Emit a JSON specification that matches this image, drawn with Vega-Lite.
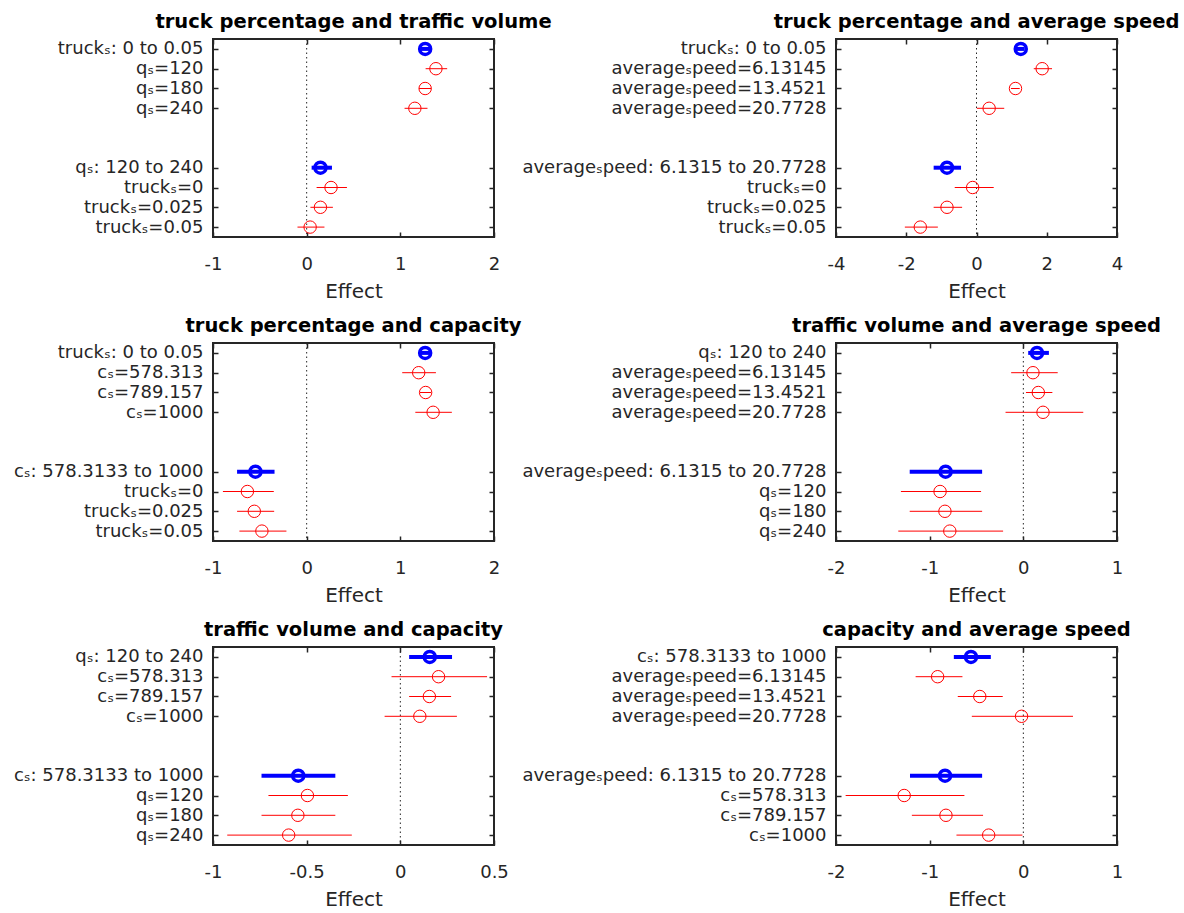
{
  "$schema": "https://vega.github.io/schema/vega-lite/v6.json",
  "padding": {"left": 12, "top": 10, "right": 5, "bottom": 5},
  "datasets": {
    "effects": [
      {"panel": 1, "term": "truckₛ: 0 to 0.05", "kind": "main", "est": 1.265, "lo": 1.21, "hi": 1.32},
      {"panel": 1, "term": "qₛ=120", "kind": "cond", "est": 1.38, "lo": 1.27, "hi": 1.5},
      {"panel": 1, "term": "qₛ=180", "kind": "cond", "est": 1.265, "lo": 1.2, "hi": 1.33},
      {"panel": 1, "term": "qₛ=240", "kind": "cond", "est": 1.155, "lo": 1.045, "hi": 1.29},
      {"panel": 1, "term": "qₛ: 120 to 240", "kind": "main", "est": 0.147, "lo": 0.053, "hi": 0.27},
      {"panel": 1, "term": "truckₛ=0", "kind": "cond", "est": 0.26, "lo": 0.106, "hi": 0.43},
      {"panel": 1, "term": "truckₛ=0.025", "kind": "cond", "est": 0.147, "lo": 0.04, "hi": 0.28},
      {"panel": 1, "term": "truckₛ=0.05", "kind": "cond", "est": 0.037, "lo": -0.098, "hi": 0.19},

      {"panel": 2, "term": "truckₛ: 0 to 0.05", "kind": "main", "est": 1.26, "lo": 1.15, "hi": 1.37},
      {"panel": 2, "term": "averageₛpeed=6.13145", "kind": "cond", "est": 1.87, "lo": 1.63, "hi": 2.15},
      {"panel": 2, "term": "averageₛpeed=13.4521", "kind": "cond", "est": 1.11, "lo": 0.98, "hi": 1.23},
      {"panel": 2, "term": "averageₛpeed=20.7728", "kind": "cond", "est": 0.36, "lo": 0.01, "hi": 0.79},
      {"panel": 2, "term": "averageₛpeed: 6.1315 to 20.7728", "kind": "main", "est": -0.84, "lo": -1.22, "hi": -0.44},
      {"panel": 2, "term": "truckₛ=0", "kind": "cond", "est": -0.11, "lo": -0.62, "hi": 0.49},
      {"panel": 2, "term": "truckₛ=0.025", "kind": "cond", "est": -0.84, "lo": -1.22, "hi": -0.41},
      {"panel": 2, "term": "truckₛ=0.05", "kind": "cond", "est": -1.6, "lo": -2.04, "hi": -1.1},

      {"panel": 3, "term": "truckₛ: 0 to 0.05", "kind": "main", "est": 1.265, "lo": 1.22, "hi": 1.31},
      {"panel": 3, "term": "cₛ=578.313", "kind": "cond", "est": 1.196, "lo": 1.02, "hi": 1.38},
      {"panel": 3, "term": "cₛ=789.157", "kind": "cond", "est": 1.27, "lo": 1.21, "hi": 1.33},
      {"panel": 3, "term": "cₛ=1000", "kind": "cond", "est": 1.35, "lo": 1.16, "hi": 1.55},
      {"panel": 3, "term": "cₛ: 578.3133 to 1000", "kind": "main", "est": -0.547, "lo": -0.743, "hi": -0.343},
      {"panel": 3, "term": "truckₛ=0", "kind": "cond", "est": -0.633, "lo": -0.894, "hi": -0.351},
      {"panel": 3, "term": "truckₛ=0.025", "kind": "cond", "est": -0.559, "lo": -0.743, "hi": -0.347},
      {"panel": 3, "term": "truckₛ=0.05", "kind": "cond", "est": -0.478, "lo": -0.718, "hi": -0.216},

      {"panel": 4, "term": "qₛ: 120 to 240", "kind": "main", "est": 0.146, "lo": 0.052, "hi": 0.273},
      {"panel": 4, "term": "averageₛpeed=6.13145", "kind": "cond", "est": 0.103, "lo": -0.13, "hi": 0.367},
      {"panel": 4, "term": "averageₛpeed=13.4521", "kind": "cond", "est": 0.16, "lo": 0.028, "hi": 0.31},
      {"panel": 4, "term": "averageₛpeed=20.7728", "kind": "cond", "est": 0.21, "lo": -0.19, "hi": 0.64},
      {"panel": 4, "term": "averageₛpeed: 6.1315 to 20.7728", "kind": "main", "est": -0.83, "lo": -1.213, "hi": -0.44},
      {"panel": 4, "term": "qₛ=120", "kind": "cond", "est": -0.889, "lo": -1.307, "hi": -0.451},
      {"panel": 4, "term": "qₛ=180", "kind": "cond", "est": -0.837, "lo": -1.213, "hi": -0.44},
      {"panel": 4, "term": "qₛ=240", "kind": "cond", "est": -0.785, "lo": -1.335, "hi": -0.216},

      {"panel": 5, "term": "qₛ: 120 to 240", "kind": "main", "est": 0.157, "lo": 0.047, "hi": 0.276},
      {"panel": 5, "term": "cₛ=578.313", "kind": "cond", "est": 0.204, "lo": -0.047, "hi": 0.463},
      {"panel": 5, "term": "cₛ=789.157", "kind": "cond", "est": 0.155, "lo": 0.047, "hi": 0.271},
      {"panel": 5, "term": "cₛ=1000", "kind": "cond", "est": 0.104, "lo": -0.084, "hi": 0.302},
      {"panel": 5, "term": "cₛ: 578.3133 to 1000", "kind": "main", "est": -0.545, "lo": -0.741, "hi": -0.347},
      {"panel": 5, "term": "qₛ=120", "kind": "cond", "est": -0.496, "lo": -0.704, "hi": -0.28},
      {"panel": 5, "term": "qₛ=180", "kind": "cond", "est": -0.547, "lo": -0.741, "hi": -0.347},
      {"panel": 5, "term": "qₛ=240", "kind": "cond", "est": -0.596, "lo": -0.924, "hi": -0.259},

      {"panel": 6, "term": "cₛ: 578.3133 to 1000", "kind": "main", "est": -0.559, "lo": -0.742, "hi": -0.347},
      {"panel": 6, "term": "averageₛpeed=6.13145", "kind": "cond", "est": -0.915, "lo": -1.15, "hi": -0.65},
      {"panel": 6, "term": "averageₛpeed=13.4521", "kind": "cond", "est": -0.465, "lo": -0.7, "hi": -0.22},
      {"panel": 6, "term": "averageₛpeed=20.7728", "kind": "cond", "est": -0.019, "lo": -0.55, "hi": 0.53},
      {"panel": 6, "term": "averageₛpeed: 6.1315 to 20.7728", "kind": "main", "est": -0.836, "lo": -1.21, "hi": -0.44},
      {"panel": 6, "term": "cₛ=578.313", "kind": "cond", "est": -1.272, "lo": -1.897, "hi": -0.629},
      {"panel": 6, "term": "cₛ=789.157", "kind": "cond", "est": -0.826, "lo": -1.19, "hi": -0.43},
      {"panel": 6, "term": "cₛ=1000", "kind": "cond", "est": -0.37, "lo": -0.714, "hi": -0.01}
    ]
  },
  "data": {"name": "effects"},
  "columns": 2,
  "bounds": "flush",
  "spacing": {"row": 106, "column": 342},
  "concat": [
    {
      "width": 281, "height": 198,
      "title": "truck percentage and traffic volume",
      "transform": [{"filter": "datum.panel == 1"}],
      "layer": [
        {"transform": [{"aggregate": [{"op": "count", "as": "n"}]}],
         "mark": {"type": "rule", "color": "#262626", "strokeWidth": 1, "strokeDash": [1.5, 3]},
         "encoding": {"x": {"datum": 0, "type": "quantitative", "scale": {"domain": [-1, 2], "nice": false, "zero": false}, "axis": {"values": [-1, 0, 1, 2], "title": "Effect"}}}},
        {"transform": [{"filter": "datum.kind == 'cond'"}],
         "mark": {"type": "rule", "color": "#FF0000", "strokeWidth": 1},
         "encoding": {"x": {"field": "lo", "type": "quantitative", "axis": null}, "x2": {"field": "hi"},
           "y": {"field": "term", "type": "ordinal", "scale": {"type": "point", "padding": 0.5, "domain": ["truckₛ: 0 to 0.05", "qₛ=120", "qₛ=180", "qₛ=240", "gap1", "gap2", "qₛ: 120 to 240", "truckₛ=0", "truckₛ=0.025", "truckₛ=0.05"]},
             "axis": {"values": ["truckₛ: 0 to 0.05", "qₛ=120", "qₛ=180", "qₛ=240", "qₛ: 120 to 240", "truckₛ=0", "truckₛ=0.025", "truckₛ=0.05"], "title": null}}}},
        {"transform": [{"filter": "datum.kind == 'main'"}],
         "mark": {"type": "rule", "color": "#0000FF", "strokeWidth": 4},
         "encoding": {"x": {"field": "lo", "type": "quantitative", "axis": {"orient": "top", "values": [-1, 0, 1, 2], "labels": false, "title": null}}, "x2": {"field": "hi"},
           "y": {"field": "term", "type": "ordinal", "axis": {"orient": "right", "values": ["truckₛ: 0 to 0.05", "qₛ=120", "qₛ=180", "qₛ=240", "qₛ: 120 to 240", "truckₛ=0", "truckₛ=0.025", "truckₛ=0.05"], "labels": false, "title": null}}}},
        {"transform": [{"filter": "datum.kind == 'cond'"}],
         "mark": {"type": "point", "shape": "circle", "filled": false, "color": "#FF0000", "size": 154, "strokeWidth": 1, "opacity": 1},
         "encoding": {"x": {"field": "est", "type": "quantitative", "axis": null}, "y": {"field": "term", "type": "ordinal", "axis": null}}},
        {"transform": [{"filter": "datum.kind == 'main'"}],
         "mark": {"type": "point", "shape": "circle", "filled": false, "color": "#0000FF", "size": 121, "strokeWidth": 3.5, "opacity": 1},
         "encoding": {"x": {"field": "est", "type": "quantitative", "axis": null}, "y": {"field": "term", "type": "ordinal", "axis": null}}}
      ],
      "resolve": {"axis": {"x": "independent", "y": "independent"}}
    },
    {
      "width": 281, "height": 198,
      "title": "truck percentage and average speed",
      "transform": [{"filter": "datum.panel == 2"}],
      "layer": [
        {"transform": [{"aggregate": [{"op": "count", "as": "n"}]}],
         "mark": {"type": "rule", "color": "#262626", "strokeWidth": 1, "strokeDash": [1.5, 3]},
         "encoding": {"x": {"datum": 0, "type": "quantitative", "scale": {"domain": [-4, 4], "nice": false, "zero": false}, "axis": {"values": [-4, -2, 0, 2, 4], "title": "Effect"}}}},
        {"transform": [{"filter": "datum.kind == 'cond'"}],
         "mark": {"type": "rule", "color": "#FF0000", "strokeWidth": 1},
         "encoding": {"x": {"field": "lo", "type": "quantitative", "axis": null}, "x2": {"field": "hi"},
           "y": {"field": "term", "type": "ordinal", "scale": {"type": "point", "padding": 0.5, "domain": ["truckₛ: 0 to 0.05", "averageₛpeed=6.13145", "averageₛpeed=13.4521", "averageₛpeed=20.7728", "gap1", "gap2", "averageₛpeed: 6.1315 to 20.7728", "truckₛ=0", "truckₛ=0.025", "truckₛ=0.05"]},
             "axis": {"values": ["truckₛ: 0 to 0.05", "averageₛpeed=6.13145", "averageₛpeed=13.4521", "averageₛpeed=20.7728", "averageₛpeed: 6.1315 to 20.7728", "truckₛ=0", "truckₛ=0.025", "truckₛ=0.05"], "title": null}}}},
        {"transform": [{"filter": "datum.kind == 'main'"}],
         "mark": {"type": "rule", "color": "#0000FF", "strokeWidth": 4},
         "encoding": {"x": {"field": "lo", "type": "quantitative", "axis": {"orient": "top", "values": [-4, -2, 0, 2, 4], "labels": false, "title": null}}, "x2": {"field": "hi"},
           "y": {"field": "term", "type": "ordinal", "axis": {"orient": "right", "values": ["truckₛ: 0 to 0.05", "averageₛpeed=6.13145", "averageₛpeed=13.4521", "averageₛpeed=20.7728", "averageₛpeed: 6.1315 to 20.7728", "truckₛ=0", "truckₛ=0.025", "truckₛ=0.05"], "labels": false, "title": null}}}},
        {"transform": [{"filter": "datum.kind == 'cond'"}],
         "mark": {"type": "point", "shape": "circle", "filled": false, "color": "#FF0000", "size": 154, "strokeWidth": 1, "opacity": 1},
         "encoding": {"x": {"field": "est", "type": "quantitative", "axis": null}, "y": {"field": "term", "type": "ordinal", "axis": null}}},
        {"transform": [{"filter": "datum.kind == 'main'"}],
         "mark": {"type": "point", "shape": "circle", "filled": false, "color": "#0000FF", "size": 121, "strokeWidth": 3.5, "opacity": 1},
         "encoding": {"x": {"field": "est", "type": "quantitative", "axis": null}, "y": {"field": "term", "type": "ordinal", "axis": null}}}
      ],
      "resolve": {"axis": {"x": "independent", "y": "independent"}}
    },
    {
      "width": 281, "height": 198,
      "title": "truck percentage and capacity",
      "transform": [{"filter": "datum.panel == 3"}],
      "layer": [
        {"transform": [{"aggregate": [{"op": "count", "as": "n"}]}],
         "mark": {"type": "rule", "color": "#262626", "strokeWidth": 1, "strokeDash": [1.5, 3]},
         "encoding": {"x": {"datum": 0, "type": "quantitative", "scale": {"domain": [-1, 2], "nice": false, "zero": false}, "axis": {"values": [-1, 0, 1, 2], "title": "Effect"}}}},
        {"transform": [{"filter": "datum.kind == 'cond'"}],
         "mark": {"type": "rule", "color": "#FF0000", "strokeWidth": 1},
         "encoding": {"x": {"field": "lo", "type": "quantitative", "axis": null}, "x2": {"field": "hi"},
           "y": {"field": "term", "type": "ordinal", "scale": {"type": "point", "padding": 0.5, "domain": ["truckₛ: 0 to 0.05", "cₛ=578.313", "cₛ=789.157", "cₛ=1000", "gap1", "gap2", "cₛ: 578.3133 to 1000", "truckₛ=0", "truckₛ=0.025", "truckₛ=0.05"]},
             "axis": {"values": ["truckₛ: 0 to 0.05", "cₛ=578.313", "cₛ=789.157", "cₛ=1000", "cₛ: 578.3133 to 1000", "truckₛ=0", "truckₛ=0.025", "truckₛ=0.05"], "title": null}}}},
        {"transform": [{"filter": "datum.kind == 'main'"}],
         "mark": {"type": "rule", "color": "#0000FF", "strokeWidth": 4},
         "encoding": {"x": {"field": "lo", "type": "quantitative", "axis": {"orient": "top", "values": [-1, 0, 1, 2], "labels": false, "title": null}}, "x2": {"field": "hi"},
           "y": {"field": "term", "type": "ordinal", "axis": {"orient": "right", "values": ["truckₛ: 0 to 0.05", "cₛ=578.313", "cₛ=789.157", "cₛ=1000", "cₛ: 578.3133 to 1000", "truckₛ=0", "truckₛ=0.025", "truckₛ=0.05"], "labels": false, "title": null}}}},
        {"transform": [{"filter": "datum.kind == 'cond'"}],
         "mark": {"type": "point", "shape": "circle", "filled": false, "color": "#FF0000", "size": 154, "strokeWidth": 1, "opacity": 1},
         "encoding": {"x": {"field": "est", "type": "quantitative", "axis": null}, "y": {"field": "term", "type": "ordinal", "axis": null}}},
        {"transform": [{"filter": "datum.kind == 'main'"}],
         "mark": {"type": "point", "shape": "circle", "filled": false, "color": "#0000FF", "size": 121, "strokeWidth": 3.5, "opacity": 1},
         "encoding": {"x": {"field": "est", "type": "quantitative", "axis": null}, "y": {"field": "term", "type": "ordinal", "axis": null}}}
      ],
      "resolve": {"axis": {"x": "independent", "y": "independent"}}
    },
    {
      "width": 281, "height": 198,
      "title": "traffic volume and average speed",
      "transform": [{"filter": "datum.panel == 4"}],
      "layer": [
        {"transform": [{"aggregate": [{"op": "count", "as": "n"}]}],
         "mark": {"type": "rule", "color": "#262626", "strokeWidth": 1, "strokeDash": [1.5, 3]},
         "encoding": {"x": {"datum": 0, "type": "quantitative", "scale": {"domain": [-2, 1], "nice": false, "zero": false}, "axis": {"values": [-2, -1, 0, 1], "title": "Effect"}}}},
        {"transform": [{"filter": "datum.kind == 'cond'"}],
         "mark": {"type": "rule", "color": "#FF0000", "strokeWidth": 1},
         "encoding": {"x": {"field": "lo", "type": "quantitative", "axis": null}, "x2": {"field": "hi"},
           "y": {"field": "term", "type": "ordinal", "scale": {"type": "point", "padding": 0.5, "domain": ["qₛ: 120 to 240", "averageₛpeed=6.13145", "averageₛpeed=13.4521", "averageₛpeed=20.7728", "gap1", "gap2", "averageₛpeed: 6.1315 to 20.7728", "qₛ=120", "qₛ=180", "qₛ=240"]},
             "axis": {"values": ["qₛ: 120 to 240", "averageₛpeed=6.13145", "averageₛpeed=13.4521", "averageₛpeed=20.7728", "averageₛpeed: 6.1315 to 20.7728", "qₛ=120", "qₛ=180", "qₛ=240"], "title": null}}}},
        {"transform": [{"filter": "datum.kind == 'main'"}],
         "mark": {"type": "rule", "color": "#0000FF", "strokeWidth": 4},
         "encoding": {"x": {"field": "lo", "type": "quantitative", "axis": {"orient": "top", "values": [-2, -1, 0, 1], "labels": false, "title": null}}, "x2": {"field": "hi"},
           "y": {"field": "term", "type": "ordinal", "axis": {"orient": "right", "values": ["qₛ: 120 to 240", "averageₛpeed=6.13145", "averageₛpeed=13.4521", "averageₛpeed=20.7728", "averageₛpeed: 6.1315 to 20.7728", "qₛ=120", "qₛ=180", "qₛ=240"], "labels": false, "title": null}}}},
        {"transform": [{"filter": "datum.kind == 'cond'"}],
         "mark": {"type": "point", "shape": "circle", "filled": false, "color": "#FF0000", "size": 154, "strokeWidth": 1, "opacity": 1},
         "encoding": {"x": {"field": "est", "type": "quantitative", "axis": null}, "y": {"field": "term", "type": "ordinal", "axis": null}}},
        {"transform": [{"filter": "datum.kind == 'main'"}],
         "mark": {"type": "point", "shape": "circle", "filled": false, "color": "#0000FF", "size": 121, "strokeWidth": 3.5, "opacity": 1},
         "encoding": {"x": {"field": "est", "type": "quantitative", "axis": null}, "y": {"field": "term", "type": "ordinal", "axis": null}}}
      ],
      "resolve": {"axis": {"x": "independent", "y": "independent"}}
    },
    {
      "width": 281, "height": 198,
      "title": "traffic volume and capacity",
      "transform": [{"filter": "datum.panel == 5"}],
      "layer": [
        {"transform": [{"aggregate": [{"op": "count", "as": "n"}]}],
         "mark": {"type": "rule", "color": "#262626", "strokeWidth": 1, "strokeDash": [1.5, 3]},
         "encoding": {"x": {"datum": 0, "type": "quantitative", "scale": {"domain": [-1, 0.5], "nice": false, "zero": false}, "axis": {"values": [-1, -0.5, 0, 0.5], "title": "Effect"}}}},
        {"transform": [{"filter": "datum.kind == 'cond'"}],
         "mark": {"type": "rule", "color": "#FF0000", "strokeWidth": 1},
         "encoding": {"x": {"field": "lo", "type": "quantitative", "axis": null}, "x2": {"field": "hi"},
           "y": {"field": "term", "type": "ordinal", "scale": {"type": "point", "padding": 0.5, "domain": ["qₛ: 120 to 240", "cₛ=578.313", "cₛ=789.157", "cₛ=1000", "gap1", "gap2", "cₛ: 578.3133 to 1000", "qₛ=120", "qₛ=180", "qₛ=240"]},
             "axis": {"values": ["qₛ: 120 to 240", "cₛ=578.313", "cₛ=789.157", "cₛ=1000", "cₛ: 578.3133 to 1000", "qₛ=120", "qₛ=180", "qₛ=240"], "title": null}}}},
        {"transform": [{"filter": "datum.kind == 'main'"}],
         "mark": {"type": "rule", "color": "#0000FF", "strokeWidth": 4},
         "encoding": {"x": {"field": "lo", "type": "quantitative", "axis": {"orient": "top", "values": [-1, -0.5, 0, 0.5], "labels": false, "title": null}}, "x2": {"field": "hi"},
           "y": {"field": "term", "type": "ordinal", "axis": {"orient": "right", "values": ["qₛ: 120 to 240", "cₛ=578.313", "cₛ=789.157", "cₛ=1000", "cₛ: 578.3133 to 1000", "qₛ=120", "qₛ=180", "qₛ=240"], "labels": false, "title": null}}}},
        {"transform": [{"filter": "datum.kind == 'cond'"}],
         "mark": {"type": "point", "shape": "circle", "filled": false, "color": "#FF0000", "size": 154, "strokeWidth": 1, "opacity": 1},
         "encoding": {"x": {"field": "est", "type": "quantitative", "axis": null}, "y": {"field": "term", "type": "ordinal", "axis": null}}},
        {"transform": [{"filter": "datum.kind == 'main'"}],
         "mark": {"type": "point", "shape": "circle", "filled": false, "color": "#0000FF", "size": 121, "strokeWidth": 3.5, "opacity": 1},
         "encoding": {"x": {"field": "est", "type": "quantitative", "axis": null}, "y": {"field": "term", "type": "ordinal", "axis": null}}}
      ],
      "resolve": {"axis": {"x": "independent", "y": "independent"}}
    },
    {
      "width": 281, "height": 198,
      "title": "capacity and average speed",
      "transform": [{"filter": "datum.panel == 6"}],
      "layer": [
        {"transform": [{"aggregate": [{"op": "count", "as": "n"}]}],
         "mark": {"type": "rule", "color": "#262626", "strokeWidth": 1, "strokeDash": [1.5, 3]},
         "encoding": {"x": {"datum": 0, "type": "quantitative", "scale": {"domain": [-2, 1], "nice": false, "zero": false}, "axis": {"values": [-2, -1, 0, 1], "title": "Effect"}}}},
        {"transform": [{"filter": "datum.kind == 'cond'"}],
         "mark": {"type": "rule", "color": "#FF0000", "strokeWidth": 1},
         "encoding": {"x": {"field": "lo", "type": "quantitative", "axis": null}, "x2": {"field": "hi"},
           "y": {"field": "term", "type": "ordinal", "scale": {"type": "point", "padding": 0.5, "domain": ["cₛ: 578.3133 to 1000", "averageₛpeed=6.13145", "averageₛpeed=13.4521", "averageₛpeed=20.7728", "gap1", "gap2", "averageₛpeed: 6.1315 to 20.7728", "cₛ=578.313", "cₛ=789.157", "cₛ=1000"]},
             "axis": {"values": ["cₛ: 578.3133 to 1000", "averageₛpeed=6.13145", "averageₛpeed=13.4521", "averageₛpeed=20.7728", "averageₛpeed: 6.1315 to 20.7728", "cₛ=578.313", "cₛ=789.157", "cₛ=1000"], "title": null}}}},
        {"transform": [{"filter": "datum.kind == 'main'"}],
         "mark": {"type": "rule", "color": "#0000FF", "strokeWidth": 4},
         "encoding": {"x": {"field": "lo", "type": "quantitative", "axis": {"orient": "top", "values": [-2, -1, 0, 1], "labels": false, "title": null}}, "x2": {"field": "hi"},
           "y": {"field": "term", "type": "ordinal", "axis": {"orient": "right", "values": ["cₛ: 578.3133 to 1000", "averageₛpeed=6.13145", "averageₛpeed=13.4521", "averageₛpeed=20.7728", "averageₛpeed: 6.1315 to 20.7728", "cₛ=578.313", "cₛ=789.157", "cₛ=1000"], "labels": false, "title": null}}}},
        {"transform": [{"filter": "datum.kind == 'cond'"}],
         "mark": {"type": "point", "shape": "circle", "filled": false, "color": "#FF0000", "size": 154, "strokeWidth": 1, "opacity": 1},
         "encoding": {"x": {"field": "est", "type": "quantitative", "axis": null}, "y": {"field": "term", "type": "ordinal", "axis": null}}},
        {"transform": [{"filter": "datum.kind == 'main'"}],
         "mark": {"type": "point", "shape": "circle", "filled": false, "color": "#0000FF", "size": 121, "strokeWidth": 3.5, "opacity": 1},
         "encoding": {"x": {"field": "est", "type": "quantitative", "axis": null}, "y": {"field": "term", "type": "ordinal", "axis": null}}}
      ],
      "resolve": {"axis": {"x": "independent", "y": "independent"}}
    }
  ],
  "config": {
    "font": "DejaVu Sans",
    "background": "#FFFFFF",
    "view": {"stroke": "#262626", "strokeWidth": 2},
    "axis": {"domain": false, "grid": false, "labelFont": "DejaVu Sans", "labelFontSize": 18, "labelColor": "#262626", "labelLimit": 500, "labelFlush": false, "labelOverlap": false, "tickColor": "#262626", "tickSize": -5, "tickWidth": 1.5, "titleFont": "DejaVu Sans", "titleFontSize": 20, "titleFontWeight": "normal", "titleColor": "#262626"},
    "axisBottom": {"labelPadding": 23, "titlePadding": 8, "labelExpr": "datum.value < 0 ? '-' + format(-datum.value, '~g') : format(datum.value, '~g')"},
    "axisLeft": {"labelPadding": 15},
    "title": {"font": "DejaVu Sans", "fontSize": 19.5, "fontWeight": "bold", "color": "#000000", "frame": "group", "anchor": "middle", "offset": 4}
  }
}
